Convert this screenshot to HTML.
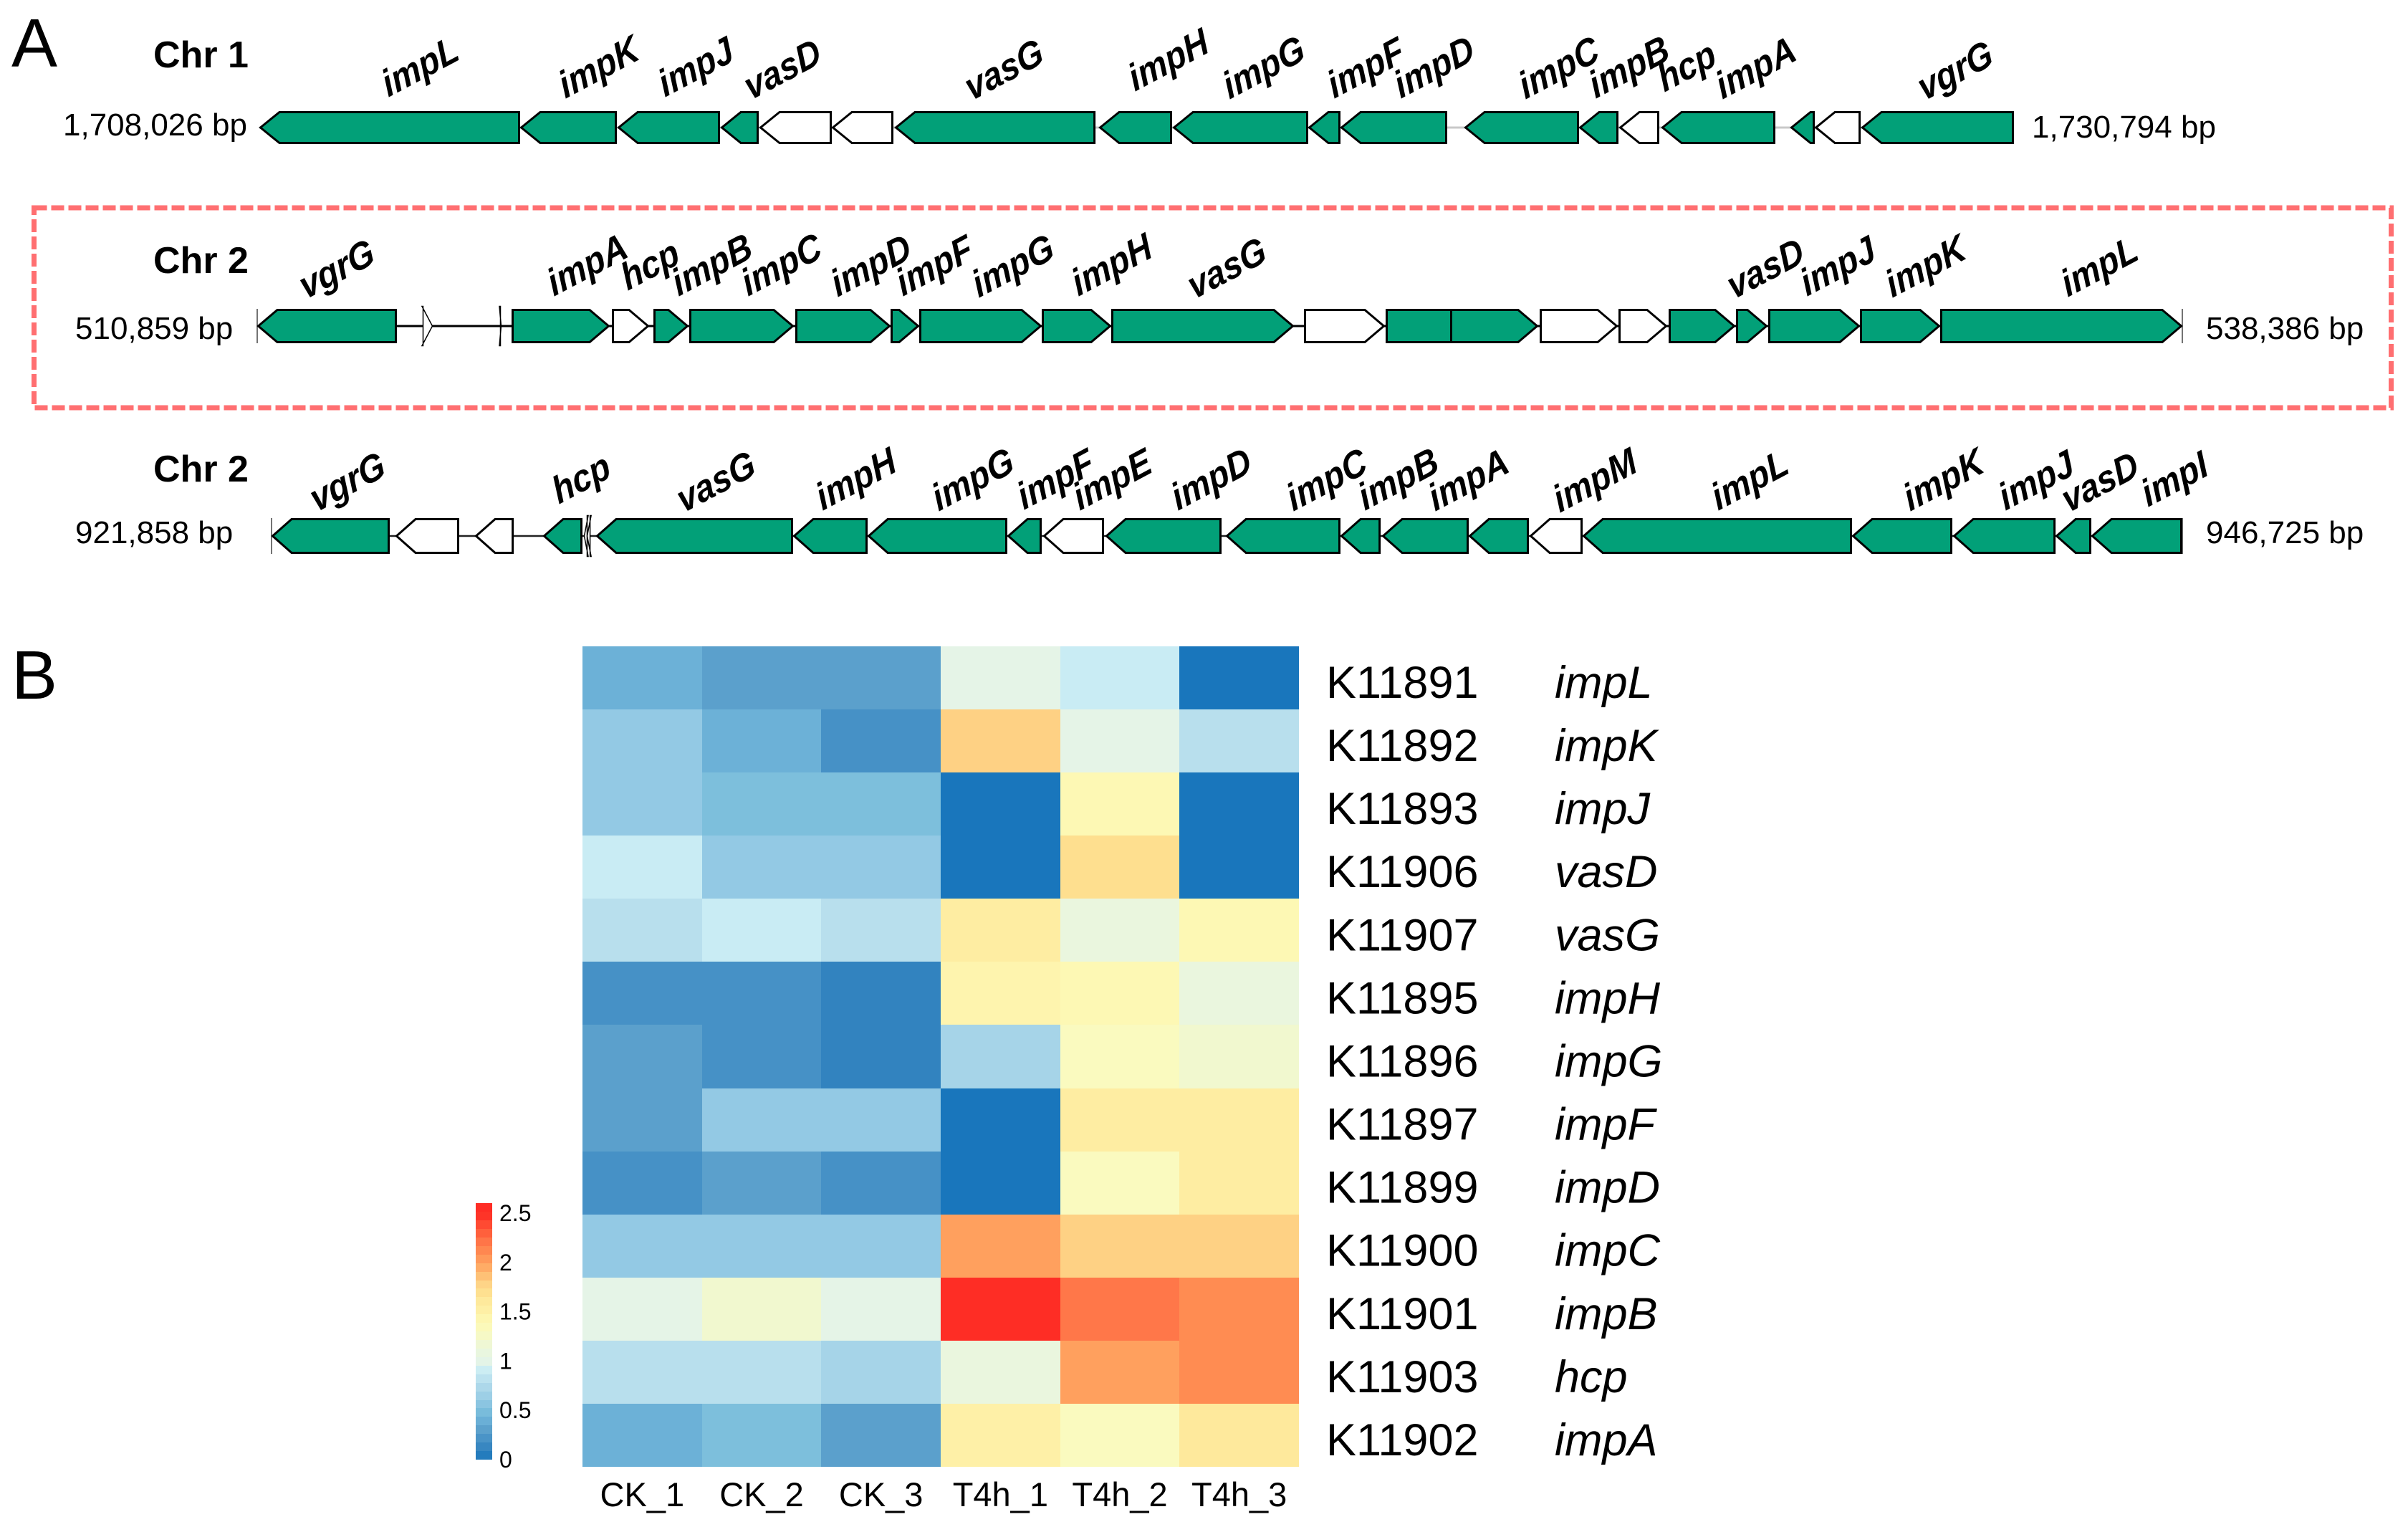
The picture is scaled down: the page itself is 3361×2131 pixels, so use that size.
<!DOCTYPE html>
<html lang="en">
<head>
<meta charset="utf-8">
<title>T6SS gene clusters and expression heatmap</title>
<style>
html,body{margin:0;padding:0;background:#fff;}
svg{display:block;font-family:"Liberation Sans",Arial,sans-serif;}
.gl{font-size:47px;font-weight:bold;font-style:italic;fill:#000;}
.coord{font-size:44px;fill:#000;}
.chr{font-size:52px;font-weight:bold;fill:#000;}
.panel{font-size:96px;fill:#000;}
</style>
</head>
<body>
<svg id="fig" xmlns="http://www.w3.org/2000/svg" width="3361" height="2131" viewBox="0 0 3361 2131">
<rect x="0" y="0" width="3361" height="2131" fill="#fff"/>
<text class="panel" x="16" y="93">A</text>
<text class="panel" x="16" y="975">B</text>
<rect x="47.5" y="290" width="3290" height="279" fill="none" stroke="#ff6f71" stroke-width="7" stroke-dasharray="18 6"/>

<text class="chr" x="214" y="94">Chr 1</text>
<text class="chr" x="214" y="381">Chr 2</text>
<text class="chr" x="214" y="672">Chr 2</text>

<text class="coord" x="88" y="189">1,708,026 bp</text>
<text class="coord" x="2836" y="192">1,730,794 bp</text>
<text class="coord" x="105" y="473">510,859 bp</text>
<text class="coord" x="3079" y="473">538,386 bp</text>
<text class="coord" x="105" y="758">921,858 bp</text>
<text class="coord" x="3079" y="758">946,725 bp</text>

<g id="loci"></g>

<g>
<text class="gl" transform="translate(542,136) scale(1,1.14) rotate(-25)">impL</text>
<text class="gl" transform="translate(789,138) scale(1,1.14) rotate(-25)">impK</text>
<text class="gl" transform="translate(928,136) scale(1,1.14) rotate(-25)">impJ</text>
<text class="gl" transform="translate(1048,140) scale(1,1.14) rotate(-25)">vasD</text>
<text class="gl" transform="translate(1356,141) scale(1,1.14) rotate(-25)">vasG</text>
<text class="gl" transform="translate(1584,128) scale(1,1.14) rotate(-25)">impH</text>
<text class="gl" transform="translate(1716,139) scale(1,1.14) rotate(-25)">impG</text>
<text class="gl" transform="translate(1862,138) scale(1,1.14) rotate(-25)">impF</text>
<text class="gl" transform="translate(1955,138) scale(1,1.14) rotate(-25)">impD</text>
<text class="gl" transform="translate(2129,139) scale(1,1.14) rotate(-25)">impC</text>
<text class="gl" transform="translate(2227,138) scale(1,1.14) rotate(-25)">impB</text>
<text class="gl" transform="translate(2323,129) scale(1,1.14) rotate(-25)">hcp</text>
<text class="gl" transform="translate(2404,139) scale(1,1.14) rotate(-25)">impA</text>
<text class="gl" transform="translate(2686,141) scale(1,1.14) rotate(-25)">vgrG</text>
</g>

<g>
<text class="gl" transform="translate(427,418) scale(1,1.14) rotate(-25)">vgrG</text>
<text class="gl" transform="translate(773,414) scale(1,1.14) rotate(-25)">impA</text>
<text class="gl" transform="translate(876,406) scale(1,1.14) rotate(-25)">hcp</text>
<text class="gl" transform="translate(947,414) scale(1,1.14) rotate(-25)">impB</text>
<text class="gl" transform="translate(1044,414) scale(1,1.14) rotate(-25)">impC</text>
<text class="gl" transform="translate(1169,415) scale(1,1.14) rotate(-25)">impD</text>
<text class="gl" transform="translate(1260,414) scale(1,1.14) rotate(-25)">impF</text>
<text class="gl" transform="translate(1366,416) scale(1,1.14) rotate(-25)">impG</text>
<text class="gl" transform="translate(1505,414) scale(1,1.14) rotate(-25)">impH</text>
<text class="gl" transform="translate(1667,418) scale(1,1.14) rotate(-25)">vasG</text>
<text class="gl" transform="translate(2420,418) scale(1,1.14) rotate(-25)">vasD</text>
<text class="gl" transform="translate(2522,414) scale(1,1.14) rotate(-25)">impJ</text>
<text class="gl" transform="translate(2641,416) scale(1,1.14) rotate(-25)">impK</text>
<text class="gl" transform="translate(2886,415) scale(1,1.14) rotate(-25)">impL</text>
</g>

<g>
<text class="gl" transform="translate(442,715) scale(1,1.14) rotate(-25)">vgrG</text>
<text class="gl" transform="translate(780,704) scale(1,1.14) rotate(-25)">hcp</text>
<text class="gl" transform="translate(954,716) scale(1,1.14) rotate(-25)">vasG</text>
<text class="gl" transform="translate(1148,713) scale(1,1.14) rotate(-25)">impH</text>
<text class="gl" transform="translate(1310,714) scale(1,1.14) rotate(-25)">impG</text>
<text class="gl" transform="translate(1429,712) scale(1,1.14) rotate(-25)">impF</text>
<text class="gl" transform="translate(1507,713) scale(1,1.14) rotate(-25)">impE</text>
<text class="gl" transform="translate(1644,713) scale(1,1.14) rotate(-25)">impD</text>
<text class="gl" transform="translate(1805,714) scale(1,1.14) rotate(-25)">impC</text>
<text class="gl" transform="translate(1905,713) scale(1,1.14) rotate(-25)">impB</text>
<text class="gl" transform="translate(2003,714) scale(1,1.14) rotate(-25)">impA</text>
<text class="gl" transform="translate(2177,716) scale(1,1.14) rotate(-25)">impM</text>
<text class="gl" transform="translate(2398,713) scale(1,1.14) rotate(-25)">impL</text>
<text class="gl" transform="translate(2666,714) scale(1,1.14) rotate(-25)">impK</text>
<text class="gl" transform="translate(2799,713) scale(1,1.14) rotate(-25)">impJ</text>
<text class="gl" transform="translate(2887,716) scale(1,1.14) rotate(-25)">vasD</text>
<text class="gl" transform="translate(2998,708) scale(1,1.14) rotate(-25)">impI</text>
</g>

<g id="heatmap"></g>
<g id="colorbar"></g>
</svg>

<script>
// ---------- Panel A data: gene coordinates in bp from the locus start ----------
const chr1Span = 22768;
const chr1Starts = [0,3384,4648,5987,6489,7428,8246,10896,11854,13611,14029,15637,17125,17646,18194,19867,20184,20788];
const chr1Ends = [3384,4639,5978,6480,7428,8228,10850,11844,13611,14029,15414,17125,17636,18166,19672,20184,20779,22768];
const chr1Strands = [-1,-1,-1,-1,-1,-1,-1,-1,-1,-1,-1,-1,-1,-1,-1,-1,-1,-1];
const chr1T6ss = [1,1,1,1,0,0,1,1,1,1,1,1,1,0,1,1,0,1];

const chr2aSpan = 27527;
const chr2aStarts = [0,2356,3463,3637,5071,5665,6177,7694,9056,9466,11218,12211,14967,16135,17057,18338,19465,20182,21145,21606,22917,24064];
const chr2aEnds = [1998,2520,3504,5040,5604,6167,7673,9056,9466,11218,12211,14824,16125,17088,18317,19454,20161,21134,21596,22917,24064,27527];
const chr2aStrands = [-1,1,1,1,1,1,1,1,1,1,1,1,1,0,1,1,1,1,1,1,1,1];
const chr2aT6ss = [1,0,1,1,0,1,1,1,1,1,1,1,0,1,1,0,0,1,1,1,1,1];

const chr2bSpan = 24867;
const chr2bStarts = [0,1613,2648,3534,4056,4093,4224,6788,7758,9576,10042,10853,12420,13911,14452,15580,16373,17063,20569,21884,23218,23683];
const chr2bEnds = [1538,2443,3152,4047,4121,4159,6788,7758,9576,10023,10834,12364,13911,14434,15580,16364,17063,20569,21874,23218,23683,24867];
const chr2bStrands = [-1,-1,-1,-1,-1,-1,-1,-1,-1,-1,-1,-1,-1,-1,-1,-1,-1,-1,-1,-1,-1,-1];
const chr2bT6ss = [1,0,0,1,0,0,1,1,1,1,0,1,1,1,1,1,0,1,1,1,1,1];

// ---------- Panel B data ----------
const sampleLabels = ["CK_1","CK_2","CK_3","T4h_1","T4h_2","T4h_3"];
const keggIds = ["K11891","K11892","K11893","K11906","K11907","K11895","K11896","K11897","K11899","K11900","K11901","K11903","K11902"];
const geneNames = ["impL","impK","impJ","vasD","vasG","impH","impG","impF","impD","impC","impB","hcp","impA"];
const rowImpL = [0.4,0.3,0.3,1.0,0.9,0];
const rowImpK = [0.6,0.4,0.2,1.8,1.0,0.8];
const rowImpJ = [0.6,0.5,0.5,0,1.4,0];
const rowVasD = [0.9,0.6,0.6,0,1.7,0];
const rowVasG = [0.8,0.9,0.8,1.55,1.1,1.4];
const rowImpH = [0.2,0.2,0.1,1.45,1.4,1.1];
const rowImpG = [0.3,0.2,0.1,0.7,1.3,1.2];
const rowImpF = [0.3,0.6,0.6,0,1.55,1.55];
const rowImpD = [0.2,0.3,0.2,0,1.3,1.55];
const rowImpC = [0.6,0.6,0.6,2.0,1.8,1.8];
const rowImpB = [1.0,1.2,1.0,2.5,2.2,2.1];
const rowHcp = [0.8,0.8,0.7,1.1,2.0,2.1];
const rowImpA = [0.4,0.5,0.3,1.5,1.3,1.6];
const expressionRows = [rowImpL,rowImpK,rowImpJ,rowVasD,rowVasG,rowImpH,rowImpG,rowImpF,rowImpD,rowImpC,rowImpB,rowHcp,rowImpA];
const colorbarTicks = [0,0.5,1,1.5,2,2.5];

// ---------- Palette (one colour per 0.1 unit from 0 up to 2.5) ----------
const palette = ["#1976bc","#3283bf","#4691c6","#5ba0cc","#6cb1d7","#7dbfdc","#93c9e4","#a6d4e8","#b8dfed","#c9ecf4","#e5f4e7","#eaf6de","#f1f8cf","#fafabf","#fdf8b4","#fef0a7","#fee99c","#fedf8f","#fed184","#feb86e","#ffa05e","#ff8c52","#ff7749","#ff5f3c","#ff4630","#fe2d25"];

const NS = "http://www.w3.org/2000/svg";
function make(parent, tag, attrs, text) {
  const el = document.createElementNS(NS, tag);
  for (const k in attrs) el.setAttribute(k, attrs[k]);
  if (text !== undefined) el.textContent = text;
  parent.appendChild(el);
  return el;
}
function hexToRgb(h) {
  return [parseInt(h.slice(1,3),16), parseInt(h.slice(3,5),16), parseInt(h.slice(5,7),16)];
}
function colorFor(v) {
  const t = Math.max(0, Math.min(palette.length - 1, v * 10));
  const i = Math.min(palette.length - 2, Math.floor(t));
  const f = t - i;
  const a = hexToRgb(palette[i]);
  const b = hexToRgb(palette[i + 1]);
  const c = a.map(function (x, n) { return Math.round(x + (b[n] - x) * f); });
  return "rgb(" + c.join(",") + ")";
}

// ---------- Gene tracks ----------
function drawLocus(opts, starts, ends, strands, t6ss, span) {
  const root = document.getElementById("loci");
  const g = make(root, "g", {});
  
  
  const xScale = function (bp) { return opts.x0 + (bp / span) * (opts.x1 - opts.x0); };
  const mid = (opts.top + opts.bottom) / 2;
  const backbone = make(g, "line", {
    x1: xScale(0), x2: xScale(span), y1: mid, y2: mid,
    stroke: opts.lineColor, "stroke-width": opts.lineWidth
  });
  
  
  if (opts.ticks) {
    [0, span].forEach(function (bp) {
      const tick = make(g, "line", {
        x1: xScale(bp), x2: xScale(bp), y1: opts.top, y2: opts.bottom,
        stroke: "#444", "stroke-width": 1.5
      });
      
      
    });
  }
  starts.forEach(function (s, i) {
    const xa = xScale(s), xb = xScale(ends[i]);
    const len = xb - xa;
    const tiny = len < 26;
    const extra = tiny ? 5 : 0;
    const sw = tiny ? 1.5 : 3;
    const top = opts.top + 1.5 - extra, bot = opts.bottom - 1.5 + extra;
    const head = Math.min(28, len);
    const L = xa + 1.5, R = xb - 1.5;
    let pts;
    if (strands[i] < 0) {
      pts = [[L, mid], [xa + head, top], [R, top], [R, bot], [xa + head, bot]];
    } else if (strands[i] > 0) {
      pts = [[L, top], [xb - head, top], [R, mid], [xb - head, bot], [L, bot]];
    } else {
      pts = [[L, top], [R, top], [R, bot], [L, bot]];
    }
    const poly = make(g, "polygon", {
      points: pts.map(function (p) { return p[0].toFixed(1) + "," + p[1].toFixed(1); }).join(" "),
      fill: t6ss[i] ? "#02a078" : "#ffffff",
      stroke: "#000", "stroke-width": sw, "stroke-linejoin": "miter"
    });
    
    
  });
}
drawLocus({name:"chr1",  x0:362, x1:2811, top:155, bottom:201, lineColor:"#c8c8c8", lineWidth:3, ticks:false}, chr1Starts, chr1Ends, chr1Strands, chr1T6ss, chr1Span);
drawLocus({name:"chr2a", x0:359, x1:3046, top:431, bottom:479, lineColor:"#000", lineWidth:3, ticks:true}, chr2aStarts, chr2aEnds, chr2aStrands, chr2aT6ss, chr2aSpan);
drawLocus({name:"chr2b", x0:379, x1:3046, top:723, bottom:773, lineColor:"#222", lineWidth:2.5, ticks:true}, chr2bStarts, chr2bEnds, chr2bStrands, chr2bT6ss, chr2bSpan);

// ---------- Heatmap ----------
const heatX0 = 813, heatX1 = 1813, heatY0 = 902, heatY1 = 2047;
function colX(i) { return heatX0 + i * (heatX1 - heatX0) / sampleLabels.length; }
function rowY(i) { return heatY0 + i * (heatY1 - heatY0) / keggIds.length; }
const heat = document.getElementById("heatmap");
expressionRows.forEach(function (row, r) {
  row.forEach(function (v, c) {
    const x = Math.round(colX(c)), y = Math.round(rowY(r));
    const cell = make(heat, "rect", {
      x: x, y: y,
      width: Math.round(colX(c + 1)) - x,
      height: Math.round(rowY(r + 1)) - y,
      fill: colorFor(v),
      "shape-rendering": "crispEdges"
    });
    
    
  });
  const id = make(heat, "text", {
    x: 1851, y: rowY(r) + 72, "font-size": 63, fill: "#000"
  }, keggIds[r]);
  
  
  const gene = make(heat, "text", {
    x: 2170, y: rowY(r) + 72, "font-size": 63, "font-style": "italic", fill: "#000"
  }, geneNames[r]);
  
  
});
sampleLabels.forEach(function (s, c) {
  const lab = make(heat, "text", {
    x: (colX(c) + colX(c + 1)) / 2, y: 2102, "font-size": 47, "text-anchor": "middle", fill: "#000"
  }, s);
  
  
});

// ---------- Colorbar ----------
const cbar = document.getElementById("colorbar");
const cbarMax = 2.6, cbarY0 = 2037, cbarPerUnit = 137.6, cbarSteps = 30;
function cbarY(v) { return cbarY0 - v * cbarPerUnit; }
for (let i = 0; i < cbarSteps; i++) {
  const v0 = i * cbarMax / cbarSteps, v1 = (i + 1) * cbarMax / cbarSteps;
  const yTop = Math.round(cbarY(v1)), yBot = Math.round(cbarY(v0));
  const step = make(cbar, "rect", {
    x: 664, y: yTop, width: 23, height: yBot - yTop,
    fill: colorFor((v0 + v1) / 2), "shape-rendering": "crispEdges"
  });
  
  
}
colorbarTicks.forEach(function (t) {
  const lab = make(cbar, "text", {
    x: 697, y: cbarY(t) + 11, "font-size": 32, fill: "#000"
  }, String(t));
  
  
});
</script>
</body>
</html>
